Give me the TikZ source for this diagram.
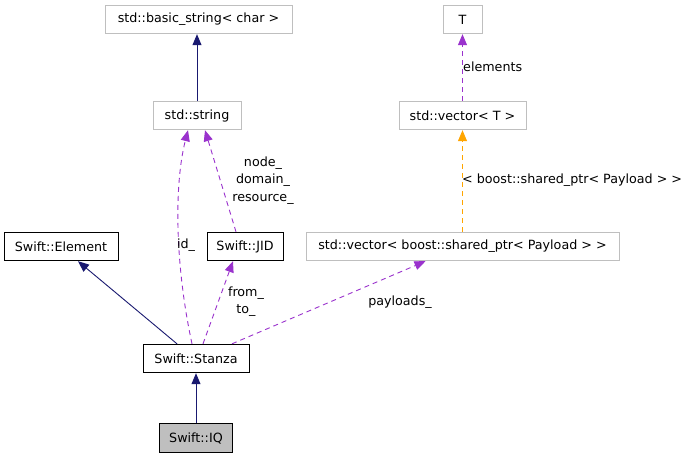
\documentclass[tikz,border=0pt]{standalone}
\usepackage{fontspec}
\setmainfont{DejaVu Sans}
\usetikzlibrary{arrows.meta}
\definecolor{navyc}{HTML}{191970}
\definecolor{purp}{HTML}{9A32CD}
\definecolor{orng}{HTML}{FFA500}
\definecolor{grayb}{HTML}{BFBFBF}
\begin{document}
\begin{tikzpicture}[x=1pt,y=-1pt,
  font=\fontsize{12.7}{15}\selectfont,
  box/.style={draw=black, line width=0.9pt, minimum height=28.5pt, inner sep=0pt, anchor=center},
  gbox/.style={box, draw=grayb},
  inh/.style={draw=navyc, line width=0.9pt, -{Triangle[length=11pt,width=9pt]}},
  usedby/.style={draw=purp, line width=0.9pt, dash pattern=on 5pt off 4pt, -{Triangle[length=11pt,width=9pt]}},
  tmpl/.style={usedby, draw=orng},
  lbl/.style={align=center, inner sep=0pt, font=\fontsize{12.7}{17.5}\selectfont}]
\useasboundingbox (0,0) rectangle (691,459);
\fill[white] (0,0) rectangle (691,459);
% nodes
\node[gbox, minimum width=187pt] (bs) at (198.5,19.5) {std::basic\_string< char >};
\node[gbox, minimum width=39pt] (T) at (462.5,19.5) {T};
\node[gbox, minimum width=88pt] (str) at (197,115.5) {std::string};
\node[gbox, minimum width=127pt] (vt) at (462.5,115.5) {std::vector< T >};
\node[box, minimum width=114pt] (el) at (61,246.5) {Swift::Element};
\node[box, minimum width=76pt] (jid) at (245,246.5) {Swift::JID};
\node[gbox, minimum width=313pt] (vb) at (462.5,246.5) {std::vector< boost::shared\_ptr< Payload > >};
\node[box, minimum width=106pt] (st) at (196,358.5) {Swift::Stanza};
\node[box, minimum width=73pt, fill=grayb] (iq) at (196,438) {Swift::IQ};
% edges
\draw[inh] (str.north) -- (str.north |- bs.south);
\draw[usedby] (vt.north) -- (T.south);
\draw[tmpl] (vb.north) -- (vt.south);
\draw[inh] ([xshift=-19pt]st.north) -- ([xshift=17pt]el.south);
\draw[inh] (iq.north) -- (st.south);
\draw[usedby] ([xshift=-4pt]st.north) .. controls (175,265) and (174,185) .. ([xshift=-9pt]str.south);
\draw[usedby] ([xshift=7pt]st.north) -- ([xshift=-12pt]jid.south);
\draw[usedby] ([xshift=-9pt]jid.north) -- ([xshift=8pt]str.south);
\draw[usedby] ([xshift=36pt]st.north) -- ([xshift=-37pt]vb.south);
% labels
\node[lbl, anchor=west] (lelem) at (463,67) {elements};
\node[lbl, anchor=west] (lboost) at (462,180) {< boost::shared\_ptr< Payload > >};
\node[lbl] (lnode) at (263,180.5) {node\_\\domain\_\\resource\_};
\node[lbl] (lid) at (186,245) {id\_};
\node[lbl] (lft) at (246,301.5) {from\_\\to\_};
\node[lbl] (lpay) at (400,302) {payloads\_};
\end{tikzpicture}
\end{document}
